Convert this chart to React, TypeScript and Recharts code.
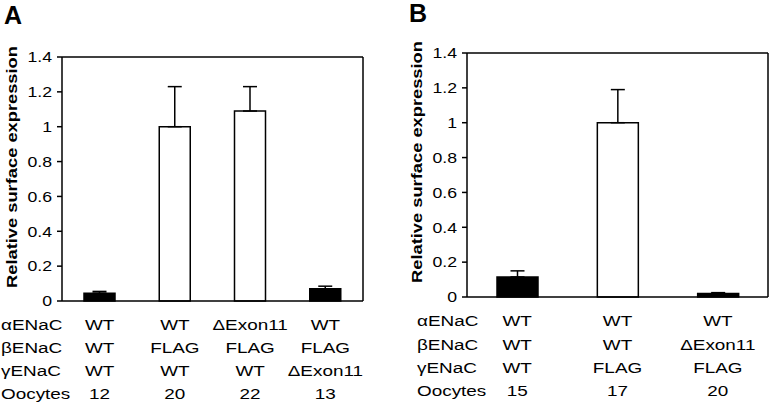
import React from "react";
import { BarChart, Bar, XAxis, YAxis, Cell, ErrorBar } from "recharts";

// row headers under the x axis
const rowNames = ["αENaC", "βENaC", "γENaC", "Oocytes"];

// panel A
const alphaA = ["WT", "WT", "ΔExon11", "WT"];
const betaA = ["WT", "FLAG", "FLAG", "FLAG"];
const gammaA = ["WT", "WT", "WT", "ΔExon11"];
const oocytesA = [12, 20, 22, 13];
const meanA = [0.045, 1.0, 1.09, 0.07];
const semA = [0.01, 0.23, 0.14, 0.015];

// panel B
const alphaB = ["WT", "WT", "WT"];
const betaB = ["WT", "WT", "ΔExon11"];
const gammaB = ["WT", "FLAG", "FLAG"];
const oocytesB = [15, 17, 20];
const meanB = [0.115, 1.0, 0.02];
const semB = [0.035, 0.19, 0.005];

const yTicks = [0, 0.2, 0.4, 0.6, 0.8, 1, 1.2, 1.4];

const BLACK = "#000";
const WHITE = "#fff";
const fillA = [BLACK, WHITE, WHITE, BLACK];
const fillB = [BLACK, WHITE, BLACK];

const FONT = "'Liberation Sans', Arial, Helvetica, sans-serif";
const SX = 1.22; // the original lettering is set wide

function T({ x, y, anchor = "middle", size = 15.5, bold = false, rotate = false, dy, children }: any) {
  const tf = rotate
    ? `translate(${x},${y}) rotate(-90) scale(${SX},1)`
    : `translate(${x},${y}) scale(${SX},1)`;
  return (
    <text
      transform={tf}
      textAnchor={anchor}
      dy={dy}
      fontSize={size}
      fontWeight={bold ? "bold" : "normal"}
      fontFamily={FONT}
      fill="#000"
    >
      {children}
    </text>
  );
}

type PanelProps = {
  letter: string;
  rows: (string | number)[][];
  means: number[];
  sems: number[];
  fills: string[];
  width: number;
  margin: { top: number; right: number; left: number; bottom: number };
  yWidth: number;
  catHeight: number;
  barSize: number;
  headerX: number;
  rowOffsets: number[];
  labelX: number;
  labelY: number;
  letterY: number;
  letterX: number;
};

function Panel(p: PanelProps) {
  const n = p.means.length;
  const data = p.means.map((v, i) => ({ key: `c${i}`, v, e: [0, p.sems[i]] }));
  const bounds = Array.from({ length: n + 1 }, (_, i) => i);

  const CatTick = ({ x, y, index }: any) => (
    <g>
      {index === 0 &&
        rowNames.map((name, k) => (
          <T key={`h${k}`} x={p.headerX} y={y + p.rowOffsets[k]} anchor="start">
            {name}
          </T>
        ))}
      {p.rows.map((row, k) => (
        <T key={k} x={x} y={y + p.rowOffsets[k]}>
          {row[index]}
        </T>
      ))}
    </g>
  );

  const ValTick = ({ x, y, payload }: any) => (
    <T x={x} y={y} anchor="end" dy="0.36em" size={14.5}>
      {String(payload.value)}
    </T>
  );

  return (
    <BarChart width={p.width} height={407} data={data} margin={p.margin}>
      <XAxis
        xAxisId="bnd"
        type="number"
        domain={[0, n]}
        ticks={bounds}
        height={1}
        tick={false}
        tickSize={5}
        tickLine={{ stroke: "#000", strokeWidth: 1.5 }}
        axisLine={{ stroke: "#000", strokeWidth: 1.5 }}
      />
      <XAxis
        xAxisId="cat"
        dataKey="key"
        height={p.catHeight}
        interval={0}
        tickSize={0}
        tickMargin={0}
        tickLine={false}
        axisLine={false}
        tick={<CatTick />}
      />
      <XAxis
        xAxisId="top"
        orientation="top"
        type="number"
        domain={[0, n]}
        ticks={[0, n]}
        height={1}
        tick={false}
        tickLine={false}
        axisLine={{ stroke: "#000", strokeWidth: 1.5 }}
      />
      <YAxis
        yAxisId="val"
        width={p.yWidth}
        domain={[0, 1.4]}
        ticks={yTicks}
        tickSize={5}
        tickMargin={5}
        tickLine={{ stroke: "#000", strokeWidth: 1.5 }}
        axisLine={{ stroke: "#000", strokeWidth: 1.5 }}
        tick={<ValTick />}
      />
      <YAxis
        yAxisId="rgt"
        orientation="right"
        width={1}
        domain={[0, 1.4]}
        ticks={[0, 1.4]}
        tick={false}
        tickLine={false}
        axisLine={{ stroke: "#000", strokeWidth: 1.5 }}
      />
      <Bar
        dataKey="v"
        xAxisId="cat"
        yAxisId="val"
        barSize={p.barSize}
        stroke="#000"
        strokeWidth={1.5}
        isAnimationActive={false}
      >
        {p.fills.map((f, i) => (
          <Cell key={i} fill={f} />
        ))}
        <ErrorBar
          dataKey="e"
          width={7}
          stroke="#000"
          strokeWidth={1.5}
          isAnimationActive={false}
        />
      </Bar>
      <text x={p.letterX} y={p.letterY} fontSize={25} fontWeight="bold" fontFamily={FONT} fill="#000">
        {p.letter}
      </text>
      <T x={p.labelX} y={p.labelY} rotate bold size={15}>
        Relative surface expression
      </T>
    </BarChart>
  );
}

export default function App() {
  return (
    <div style={{ position: "absolute", left: 0, top: 0, width: 769, height: 407, background: "#fff" }}>
      <div style={{ position: "absolute", left: 0, top: 0 }}>
        <Panel
          letter="A"
          rows={[alphaA, betaA, gammaA, oocytesA]}
          means={meanA}
          sems={semA}
          fills={fillA}
          width={390}
          margin={{ top: 56, right: 26, left: 0, bottom: 0 }}
          yWidth={62}
          catHeight={105}
          barSize={31}
          headerX={1}
          rowOffsets={[27.5, 51, 74, 97]}
          labelX={17}
          labelY={167}
          letterX={4}
          letterY={24}
        />
      </div>
      <div style={{ position: "absolute", left: 390, top: 0 }}>
        <Panel
          letter="B"
          rows={[alphaB, betaB, gammaB, oocytesB]}
          means={meanB}
          sems={semB}
          fills={fillB}
          width={379}
          margin={{ top: 52, right: 0, left: 0, bottom: 0 }}
          yWidth={77}
          catHeight={109}
          barSize={41}
          headerX={27}
          rowOffsets={[28, 51.5, 74.5, 97.5]}
          labelX={32}
          labelY={162}
          letterX={19}
          letterY={22}
        />
      </div>
    </div>
  );
}
